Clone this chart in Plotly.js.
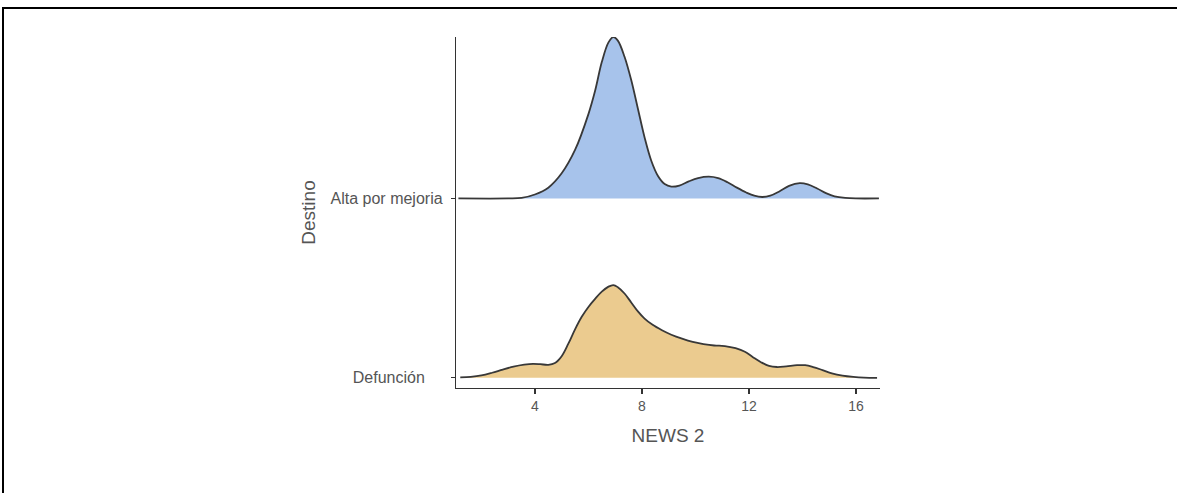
<!DOCTYPE html>
<html>
<head>
<meta charset="utf-8">
<script src="https://cdn.plot.ly/plotly-3.0.1.min.js"></script>
<style>
  html, body { margin: 0; padding: 0; background: #fff; }
  #wrap { position: relative; width: 1177px; height: 493px; overflow: hidden; }
  #chart { position: absolute; left: 0; top: 0; width: 1177px; height: 493px; }
  #frame { position: absolute; left: 2px; top: 7px; right: -10px; bottom: -10px;
           border-left: 2px solid #000; border-top: 2px solid #000; pointer-events: none; }
</style>
</head>
<body>
<div id="wrap">
  <div id="chart"></div>
  <div id="frame"></div>
</div>
<script>
// Ridge categories (bottom to top) and their baseline positions
const categories = ['Defunción', 'Alta por mejoria'];
const baselines = [1, 2];

// Density ridge for "Alta por mejoria" (NEWS 2 score vs. ridge height)
const altaX = [1.14, 3.0, 3.5, 4.0, 4.5, 5.0, 5.5, 6.0, 6.25, 6.5, 6.75, 6.93, 7.1, 7.35, 7.6,
               7.85, 8.1, 8.35, 8.6, 8.85, 9.1, 9.4, 9.75, 10.1, 10.5, 10.85, 11.2, 11.55, 11.9,
               12.2, 12.5, 12.8, 13.15, 13.5, 13.9, 14.2, 14.55, 14.9, 15.2, 15.6, 16.0, 16.86];
const altaH = [0, 0, 0.003, 0.022, 0.06, 0.14, 0.27, 0.47, 0.6, 0.76, 0.87, 0.90, 0.88, 0.79,
               0.66, 0.50, 0.34, 0.21, 0.125, 0.08, 0.066, 0.072, 0.095, 0.113, 0.121, 0.113,
               0.09, 0.06, 0.033, 0.015, 0.008, 0.015, 0.04, 0.07, 0.085, 0.078, 0.055, 0.028,
               0.012, 0.003, 0, 0];

// Density ridge for "Defunción"
const defX = [1.21, 1.6, 2.0, 2.4, 2.8, 3.2, 3.6, 3.93, 4.2, 4.5, 4.75, 5.0, 5.25, 5.5, 5.75,
              6.0, 6.25, 6.5, 6.75, 6.93, 7.1, 7.35, 7.6, 7.85, 8.1, 8.4, 8.75, 9.1, 9.5, 9.9,
              10.3, 10.7, 11.1, 11.5, 11.85, 12.15, 12.45, 12.75, 13.05, 13.4, 13.8, 14.1, 14.4,
              14.75, 15.1, 15.5, 15.9, 16.3, 16.79];
const defH = [0.002, 0.005, 0.013, 0.028, 0.046, 0.062, 0.073, 0.078, 0.076, 0.072, 0.082, 0.12,
              0.19, 0.27, 0.34, 0.395, 0.44, 0.48, 0.508, 0.517, 0.505, 0.47, 0.42, 0.37, 0.33,
              0.295, 0.265, 0.24, 0.218, 0.2, 0.188, 0.18, 0.177, 0.165, 0.145, 0.115, 0.087,
              0.066, 0.06, 0.064, 0.07, 0.07, 0.06, 0.043, 0.025, 0.012, 0.005, 0.001, 0];

const xTicks = [4, 8, 12, 16];
const fills = ['#ebcb8f', '#a7c3eb'];

// The "Defunción" label sits a little further from its tick
const labelPad = ['\u00a0\u00a0\u00a0\u00a0', ''];

function ridge(xs, hs, base, fill) {
  const floor = {
    x: xs, y: xs.map(() => base), mode: 'lines',
    line: { width: 0, color: 'rgba(0,0,0,0)' }, hoverinfo: 'skip', showlegend: false
  };
  const top = {
    x: xs, y: hs.map(h => base + h), mode: 'lines',
    line: { color: '#383838', width: 1.8, shape: 'spline', smoothing: 1 },
    fill: 'tonexty', fillcolor: fill, showlegend: false
  };
  return [floor, top];
}

const data = [
  ...ridge(defX, defH, baselines[0], fills[0]),
  ...ridge(altaX, altaH, baselines[1], fills[1])
];

const textColor = '#555555';
const layout = {
  width: 1177, height: 493,
  margin: { l: 456, r: 297, t: 37, b: 105, pad: 0 },
  paper_bgcolor: '#ffffff', plot_bgcolor: '#ffffff',
  font: { family: 'Liberation Sans, Arial, sans-serif', color: textColor },
  showlegend: false,
  xaxis: {
    range: [1.05, 16.9], tickvals: xTicks, ticktext: xTicks.map(String),
    showgrid: false, zeroline: false, showline: true, linecolor: '#333333', linewidth: 1.2,
    ticks: 'outside', ticklen: 5, tickwidth: 1.2, tickcolor: '#333333',
    tickfont: { size: 14, color: textColor },
    title: { text: 'NEWS 2', font: { size: 19, color: textColor }, standoff: 15 }
  },
  yaxis: {
    range: [0.943, 2.9], tickvals: baselines,
    ticktext: categories.map((c, i) => c + labelPad[i]),
    showgrid: false, zeroline: false, showline: true, linecolor: '#333333', linewidth: 1.2,
    ticks: 'outside', ticklen: 4, tickwidth: 1.2, tickcolor: '#333333',
    ticklabelstandoff: 5,
    tickfont: { size: 16, color: textColor },
    title: { text: 'Destino', font: { size: 19, color: textColor }, standoff: 10 }
  }
};

Plotly.newPlot('chart', data, layout, { staticPlot: true, displayModeBar: false });
</script>
</body>
</html>
